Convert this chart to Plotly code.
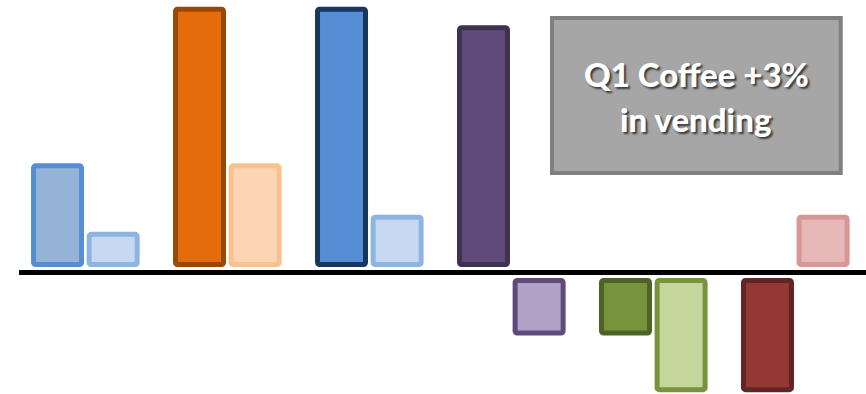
import plotly.graph_objects as go

# ---- data (arbitrary units, tallest bar = 100) ----
groups = [0, 1, 2, 3, 4, 5]
series_a = [40.5, 100, 100, 93, -23, -44.5]
series_b = [14.5, 40.5, 21, -23, -44.5, 21]

fill_a = ['#95B3D7', '#E46C0A', '#558ED5', '#604A7B', '#77933C', '#953735']
line_a = ['#558ED5', '#984807', '#17375E', '#3F3151', '#4F6228', '#632523']
fill_b = ['#C6D9F1', '#FCD5B5', '#C6D9F1', '#B3A2C7', '#C3D69B', '#E6B9B8']
line_b = ['#8DB4E2', '#FAC090', '#8DB4E2', '#604A7B', '#77933C', '#D99694']

callout_lines = ['Q1 Coffee +3%', 'in vending']

# ---- styling ----
W, H = 866, 394
GAP = 3.0            # visual gap between bars and the axis line (units)
BAR_W = 0.338
PAIR_OFF = 0.3916
X_RANGE = [-0.601, 5.498]
Y_RANGE = [-46.15, 103.5]


def split(vals):
    base = [GAP if v > 0 else -GAP for v in vals]
    y = [v - b for v, b in zip(vals, base)]
    return y, base


ya, ba = split(series_a)
yb, bb = split(series_b)

fig = go.Figure()
fig.add_trace(go.Bar(
    x=groups, y=ya, base=ba, width=BAR_W, offset=-PAIR_OFF / 2 - BAR_W / 2,
    marker=dict(color=fill_a, line=dict(color=line_a, width=5), cornerradius=2),
    hoverinfo='skip'))
fig.add_trace(go.Bar(
    x=groups, y=yb, base=bb, width=BAR_W, offset=PAIR_OFF / 2 - BAR_W / 2,
    marker=dict(color=fill_b, line=dict(color=line_b, width=5), cornerradius=2),
    hoverinfo='skip'))

# axis baseline
fig.add_shape(type='line', xref='x', yref='y', x0=-0.467, x1=X_RANGE[1], y0=0, y1=0,
              line=dict(color='black', width=5), layer='above')

# callout box
fig.add_shape(type='rect', xref='paper', yref='paper',
              x0=552 / W, x1=840.7 / W, y0=1 - 173 / H, y1=1 - 18 / H,
              line=dict(color='#7F7F7F', width=4), fillcolor='#A6A6A6', layer='above')

ys = [1 - 74 / H, 1 - 119 / H]
for txt, yy in zip(callout_lines, ys):
    fig.add_annotation(xref='paper', yref='paper', x=696 / W, y=yy,
                       xanchor='center', yanchor='middle', showarrow=False,
                       text=txt,
                       font=dict(family='Lato', size=33, color='white', weight=900,
                                 shadow='2px 2px 2px rgba(0,0,0,0.65)'))

fig.update_layout(
    width=W, height=H, margin=dict(l=0, r=0, t=0, b=0),
    paper_bgcolor='white', plot_bgcolor='white', showlegend=False,
    barmode='overlay',
    xaxis=dict(range=X_RANGE, visible=False, fixedrange=True),
    yaxis=dict(range=Y_RANGE, visible=False, fixedrange=True),
)

fig.write_html('out.html')
